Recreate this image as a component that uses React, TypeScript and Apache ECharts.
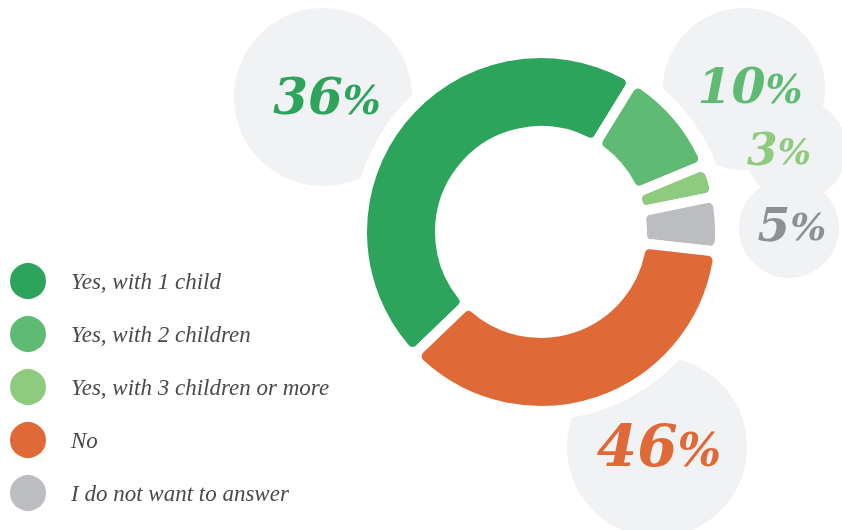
import React, { useEffect, useRef } from "react";
import * as echarts from "echarts";

// slices in drawing order (clockwise from the lower left)
const categories = [
  "Yes, with 1 child",
  "Yes, with 2 children",
  "Yes, with 3 children or more",
  "I do not want to answer",
  "No",
];
// arc sizes as drawn in the reference (its labels show 36% / 46% for green / orange)
const arcValues = [46, 10, 3, 5, 36];
const labelTexts = ["36", "10", "3", "5", "46"];
const sliceColors = ["#2ca45c", "#5fbb73", "#8ecb7e", "#bcbdc1", "#e06a37"];
const labelColors = ["#2ca45c", "#5fbb73", "#8ecb7e", "#8f9094", "#e06a37"];
// legend order as shown in the reference
const legendOrder = [
  "Yes, with 1 child",
  "Yes, with 2 children",
  "Yes, with 3 children or more",
  "No",
  "I do not want to answer",
];

const CX = 541;
const CY = 232;

// bubble layout: [cx, cy, r, fontSize]
const bubbles: [number, number, number, number][] = [
  [323, 97, 89, 50],
  [744, 89, 81, 49],
  [796, 150, 51, 44],
  [789, 228, 50, 47],
  [657, 447, 90, 58],
];
const textPos: [number, number][] = [
  [327, 96],
  [750, 86],
  [779, 149],
  [792, 224],
  [659, 446],
];

export default function App() {
  const ref = useRef<HTMLDivElement>(null);
  useEffect(() => {
    if (!ref.current) return;
    const chart = echarts.init(ref.current, undefined, { renderer: "svg" });
    const serif = "'DejaVu Serif', serif";
    const graphic: any[] = [];
    bubbles.forEach((b) => {
      graphic.push({
        type: "circle",
        z: 0,
        shape: { cx: b[0], cy: b[1], r: b[2] },
        style: { fill: "#f1f2f4" },
      });
    });
    graphic.push({
      type: "circle",
      z: 1,
      shape: { cx: CX, cy: CY, r: 188 },
      style: { fill: "#ffffff" },
    });
    labelTexts.forEach((t, i) => {
      const fs = bubbles[i][3];
      graphic.push({
        type: "text",
        z: 5,
        x: textPos[i][0],
        y: textPos[i][1],
        style: {
          text: `{n|${t}}{p|%}`,
          align: "center",
          verticalAlign: "middle",
          rich: {
            n: {
              fontSize: fs,
              fontFamily: serif,
              fontWeight: "bold",
              fontStyle: "italic",
              fill: labelColors[i],
              verticalAlign: "bottom",
              lineHeight: fs,
            },
            p: {
              fontSize: Math.round(fs * 0.8),
              fontFamily: serif,
              fontWeight: "bold",
              fontStyle: "italic",
              fill: labelColors[i],
              verticalAlign: "bottom",
              lineHeight: fs,
              padding: [0, 0, 2, 0],
            },
          },
        },
      });
    });

    chart.setOption({
      animation: false,
      color: sliceColors,
      legend: {
        orient: "vertical",
        left: 8,
        top: 261,
        padding: 0,
        itemWidth: 38,
        itemHeight: 38,
        itemGap: 13,
        icon: "circle",
        selectedMode: false,
        data: legendOrder,
        textStyle: {
          fontFamily: "'Liberation Serif', serif",
          fontStyle: "italic",
          fontSize: 23,
          color: "#4a4a4a",
          padding: [0, 0, 0, 19],
        },
      },
      graphic,
      series: [
        {
          type: "pie",
          z: 2,
          center: [CX, CY],
          radius: [101, 179],
          startAngle: 224,
          clockwise: true,
          label: { show: false },
          labelLine: { show: false },
          emphasis: { disabled: true },
          itemStyle: {
            borderColor: "#ffffff",
            borderWidth: 10,
            borderRadius: 10,
          },
          data: categories.map((name, i) => ({
            name,
            value: arcValues[i],
          })),
        },
      ],
    });
    return () => chart.dispose();
  }, []);
  return (
    <div
      ref={ref}
      style={{ position: "fixed", left: 0, top: 0, width: 842, height: 530 }}
    />
  );
}
